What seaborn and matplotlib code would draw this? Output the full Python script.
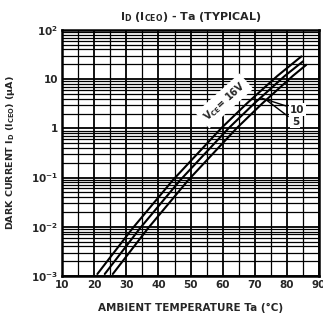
import matplotlib
matplotlib.use("Agg")
import matplotlib.pyplot as plt
import matplotlib.ticker as mticker
import seaborn as sns
import pandas as pd

# curves (Ta in degC, dark current in uA)
vce_names = ["16V", "10V", "5V"]
temp_16v = [21, 32, 44.5, 59.5, 67.5, 77, 84.5]
dark_16v = [1.1e-3, 9.4e-3, 0.089, 1.0, 3.2, 11.6, 29]
temp_10v = [23.3, 34.3, 46.8, 61.8, 69.8, 79.3, 85]
dark_10v = [1.1e-3, 9.4e-3, 0.089, 1.0, 3.2, 11.6, 23]
temp_5v = [25.8, 36.8, 49.3, 64.3, 72.3, 81.8, 86]
dark_5v = [1.1e-3, 9.4e-3, 0.089, 1.0, 3.2, 11.6, 19.5]

x_ticks = [10, 20, 30, 40, 50, 60, 70, 80, 90]
y_ticks = [1e-3, 1e-2, 1e-1, 1, 10, 100]
y_tick_labels = ["10$^{-3}$", "10$^{-2}$", "10$^{-1}$", "1", "10", "10$^{2}$"]

rows = []
for name, ts, ds in zip(vce_names, [temp_16v, temp_10v, temp_5v], [dark_16v, dark_10v, dark_5v]):
    for t, d in zip(ts, ds):
        rows.append({"vce": name, "ta": t, "id": d})
df = pd.DataFrame(rows)

sns.set_theme(style="white")
plt.rcParams['font.family'] = ['Liberation Sans Narrow', 'DejaVu Sans']
plt.rcParams['mathtext.fontset'] = 'custom'
plt.rcParams['mathtext.rm'] = 'Liberation Sans Narrow:bold'
plt.rcParams['mathtext.it'] = 'Liberation Sans Narrow:bold'
plt.rcParams['mathtext.bf'] = 'Liberation Sans Narrow:bold'

fig = plt.figure(figsize=(3.23, 3.18), dpi=100)
ax = fig.add_axes([0.192, 0.132, 0.796, 0.774])

sns.lineplot(data=df, x="ta", y="id", hue="vce", palette=["black"] * 3,
             estimator=None, sort=False, linewidth=1.5, legend=False, ax=ax)

ax.set_yscale("log")
ax.set_xlim(10, 90)
ax.set_ylim(1e-3, 100)
ax.set_xticks(x_ticks)
ax.xaxis.set_minor_locator(mticker.MultipleLocator(5))
ax.set_yticks(y_ticks)
ax.set_yticklabels(y_tick_labels)
ax.yaxis.set_minor_locator(mticker.LogLocator(base=10, subs=range(2, 10)))
ax.yaxis.set_minor_formatter(mticker.NullFormatter())
ax.tick_params(which="both", length=0, labelsize=7.5, pad=3)
for lab in ax.get_xticklabels() + ax.get_yticklabels():
    lab.set_fontweight("bold")

ax.grid(which="major", color="black", linewidth=1.3)
ax.grid(which="minor", color="black", linewidth=0.9)
ax.set_axisbelow(True)
for s in ax.spines.values():
    s.set_color("black")
    s.set_linewidth(1.8)

ax.set_xlabel("AMBIENT TEMPERATURE Ta (°C)", fontsize=7.5, fontweight="bold", labelpad=9)
ax.set_ylabel("DARK CURRENT I$_D$ (I$_{CEO}$) ($\\mu$A)", fontsize=6.8, fontweight="bold", labelpad=10)
ax.set_title("I$_D$ (I$_{CEO}$) - Ta (TYPICAL)", fontsize=8, fontweight="bold", pad=7)

ax.text(60.5, 3.6, "V$_{CE}$= 16V", fontsize=7, fontweight="bold", rotation=42,
        ha="center", va="center", rotation_mode="anchor",
        bbox=dict(facecolor="white", edgecolor="none", pad=2.5))
ax.annotate("10", xy=(71.7, 4.2), xytext=(81, 2.4), fontsize=7.5, fontweight="bold",
            ha="left", va="center", arrowprops=dict(arrowstyle="-", color="black", lw=1.0,
                                                    shrinkA=2, shrinkB=0),
            bbox=dict(facecolor="white", edgecolor="none", pad=1))
ax.annotate("5", xy=(73.5, 3.8), xytext=(81.5, 1.35), fontsize=7.5, fontweight="bold",
            ha="left", va="center", arrowprops=dict(arrowstyle="-", color="black", lw=1.0,
                                                    shrinkA=2, shrinkB=0),
            bbox=dict(facecolor="white", edgecolor="none", pad=1))

fig.savefig("out.png", dpi=100)
